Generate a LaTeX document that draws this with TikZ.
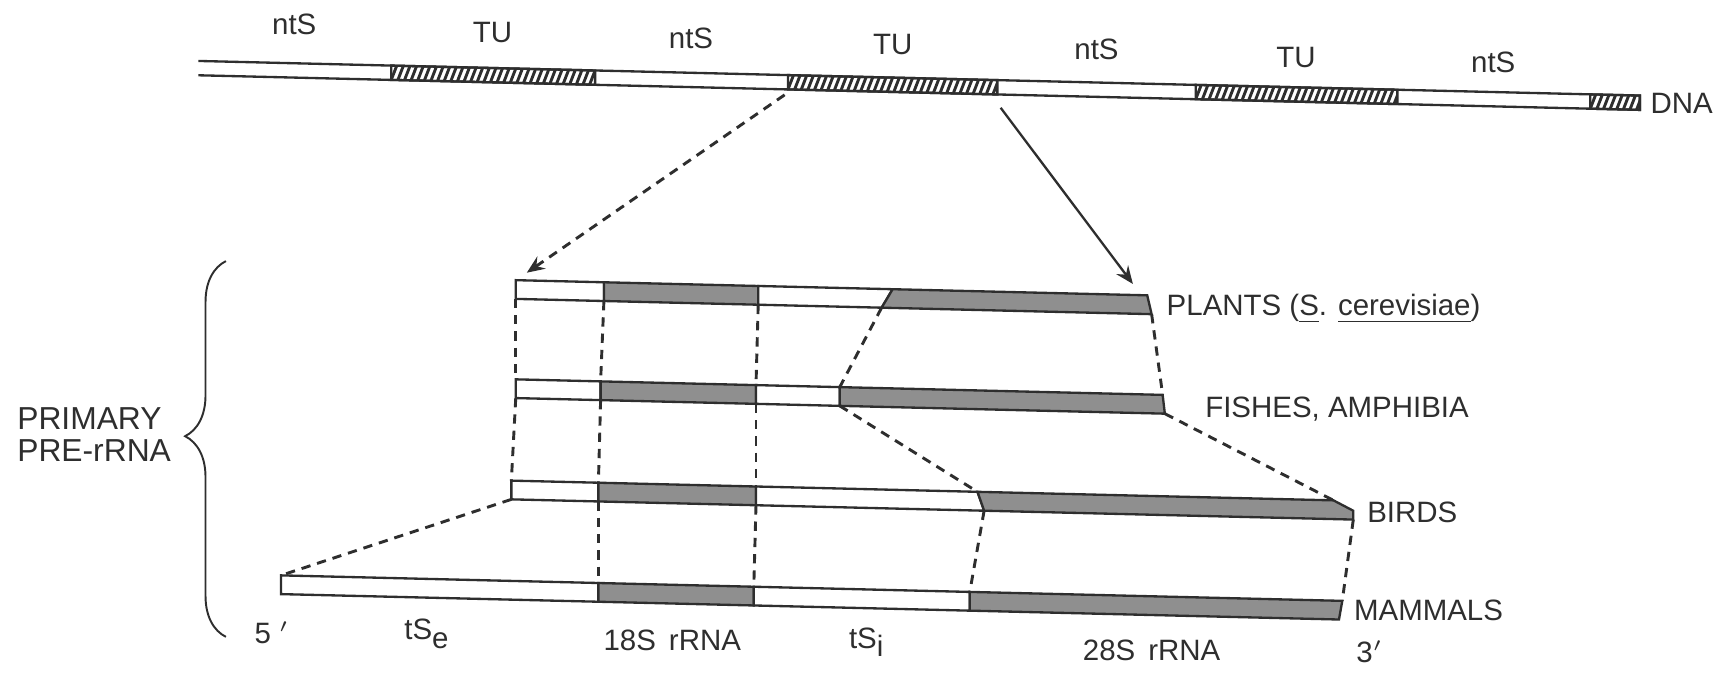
\documentclass[tikz,border=0pt]{standalone}
\usepackage{fontspec}
\setmainfont{Liberation Sans}
\usetikzlibrary{arrows.meta,decorations.pathreplacing}
\definecolor{rnaInk}{HTML}{2E2E2E}
\definecolor{rnaGray}{HTML}{8F8F8F}

\begin{document}
\begin{tikzpicture}[x=0.01cm,y=-0.01cm,font=\fontsize{7.6}{8.4}\selectfont,
  strand/.style={draw=rnaInk,line width=0.6pt},
  hatch/.style={rnaInk,line width=0.75pt},
  spacer/.style={draw=rnaInk,line width=0.6pt,fill=white},
  coding/.style={draw=rnaInk,line width=0.6pt,fill=rnaGray},
  link/.style={rnaInk,line width=0.75pt,dash pattern=on 2.4pt off 1.8pt},
  headarrow/.style={-{Stealth[length=4.6pt,width=3.8pt,inset=1.6pt]}},
  lbl/.style={inner sep=0pt,text=rnaInk}]
  \useasboundingbox (0,0) rectangle (1568,610);
  \begin{scope}[cm={1,-0.024,0,1,(0,0)}]
  % DNA : TU hachurees, espaceurs ntS
  \draw[strand] (180,51) -- (1488,51) -- (1488,64) -- (180,64);
  \foreach \a/\b in {355/540,715/905,1085/1268,1443/1488} {
    \draw[strand] (\a,51) rectangle (\b,64);
    \begin{scope}
      \clip (\a,51) rectangle (\b,64);
      \foreach \h in {0,6,...,192} \draw[hatch] (\a+\h,64) -- (\a+\h+5,51);
    \end{scope}}
  \foreach \x/\y/\t [count=\i] in {267/16/ntS,447/19/TU,627/20/ntS,810/21/TU,995/21/ntS,1176/24/TU,1355/24/ntS}
    \node[lbl] (seg\i) at (\x,\y) {\t};
  \node[lbl,anchor=west] (dna) at (1497,57.5) {DNA};
  % pre-rRNA : tSe, 18S, tSi, 28S
  \foreach \n/\yt/\yb/\xl/\xa/\xb/\xct/\xcb/\xrt/\xrb/\rk in {
      P/243/260/468/548/688/810/800/1041/1045/17,
      F/333/350/468/545/686/762/762/1055/1057/17,
      B/425/442/464/543/686/887/893/1210/1228/9,
      M/516/533/255/543/684/880/880/1218/1215/17} {
    \draw[spacer] (\xl,\yt) rectangle (\xa,\yb);
    \draw[coding] (\xa,\yt) rectangle (\xb,\yb);
    \draw[spacer] (\xb,\yt) -- (\xct,\yt) -- (\xcb,\yb) -- (\xb,\yb) -- cycle;
    \draw[coding] (\xct,\yt) -- (\xrt,\yt) -- (\xrb,\yt+\rk) -- (\xrb,\yb) -- (\xcb,\yb) -- cycle;
    \coordinate (\n0-t) at (\xl,\yt);  \coordinate (\n0-b) at (\xl,\yb);
    \coordinate (\n1-t) at (\xa,\yt);  \coordinate (\n1-b) at (\xa,\yb);
    \coordinate (\n2-t) at (\xb,\yt);  \coordinate (\n2-b) at (\xb,\yb);
    \coordinate (\n3-t) at (\xct,\yt); \coordinate (\n3-b) at (\xcb,\yb);
    \coordinate (\n4-t) at (\xrt,\yt); \coordinate (\n4-b) at (\xrb,\yb);
  }
  \foreach \u/\l in {P/F,F/B,B/M}
    \foreach \k in {0,...,4} \draw[link] (\u\k-b) -- (\l\k-t);
  % fleches DNA -> pre-rRNA
  \coordinate (srcL) at (712,69); \coordinate (srcR) at (908,76);
  \coordinate (dstL) at (478,236); \coordinate (dstR) at (1028,233);
  \draw[link,headarrow] (srcL) -- (dstL);
  \draw[strand,headarrow] (srcR) -- (dstR);
  % groupes
  \node[lbl,anchor=west] (plants) at (1058,255) {PLANTS (\underline{S}. \underline{cerevisiae})};
  \node[lbl,anchor=west] (fishes) at (1093,345) {FISHES, AMPHIBIA};
  \node[lbl,anchor=west] (birds) at (1240,435) {BIRDS};
  \node[lbl,anchor=west] (mammals) at (1228,524) {MAMMALS};
  % regions
  \node[lbl] (five) at (247,568) {5\;$'$};
  \node[lbl] (tse) at (387,566) {tS\raisebox{-0.55ex}{e}};
  \node[lbl] (ssu) at (610,566) {18S\, rRNA};
  \node[lbl] (tsi) at (786,564) {tS\raisebox{-0.55ex}{i}};
  \node[lbl] (lsu) at (1045,565) {28S\, rRNA};
  \node[lbl] (three) at (1243,562) {3$'$};
  % accolade
  \draw[rnaInk,line width=0.5pt,decorate,decoration={brace,amplitude=0.37cm,aspect=0.534}] (205,573) -- (205,232);
  \node[lbl,anchor=west,align=left,font=\fontsize{8.2}{8.4}\selectfont] (primary) at (15,394) {PRIMARY\\PRE-rRNA};
  \end{scope}
\end{tikzpicture}
\end{document}
